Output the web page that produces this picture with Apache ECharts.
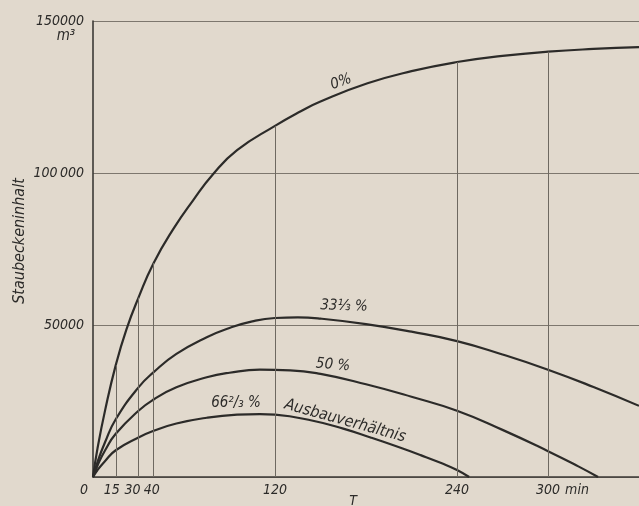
<!DOCTYPE html>
<html>
<head>
<meta charset="utf-8">
<script src="https://cdn.jsdelivr.net/npm/echarts@6/dist/echarts.min.js"></script>
<style>
html,body{margin:0;padding:0;background:#e1d9cd;}
#c{width:639px;height:506px;}
</style>
</head>
<body>
<div id="c"></div>
<script>
// ---- data ----
const T0 = [0, 3, 8, 15, 22, 30, 40, 53, 66, 79, 95, 120, 137, 150, 181, 210, 240, 270, 300, 330, 360];
const V0 = [0, 9500, 22000, 36800, 48500, 59000, 70400, 81600, 91000, 99500, 107500, 115500, 120300, 123500, 129500, 133500, 136500, 138500, 139900, 140800, 141400];

const T1 = [0, 3, 8, 15, 30, 40, 55, 75, 90, 105, 120, 135, 150, 180, 210, 240, 270, 300, 330, 360];
const V1 = [0, 5000, 11500, 19000, 29500, 34500, 40500, 46000, 49000, 51200, 52300, 52500, 52100, 50300, 47800, 44700, 40300, 35300, 29600, 23400];

const T2 = [0, 3, 8, 15, 30, 40, 55, 75, 90, 110, 130, 150, 180, 210, 240, 270, 300, 320, 333];
const V2 = [0, 3800, 8800, 14200, 21800, 25500, 29500, 32800, 34300, 35300, 35100, 33900, 30500, 26400, 21800, 15500, 8500, 3500, 0];

const T3 = [0, 3, 8, 15, 30, 40, 55, 75, 95, 110, 120, 145, 165, 183, 200, 216, 230, 240, 248];
const V3 = [0, 2300, 5300, 8800, 13000, 15200, 17600, 19500, 20500, 20700, 20500, 18500, 15900, 13000, 10100, 7200, 4500, 2300, 0];

const seriesNames = ['0%', '33⅓ %', '50 %', '66²/₃ %'];
const xTickValues = [0, 15, 30, 40, 120, 240, 300];
const yTickValues = [50000, 100000, 150000];
const markerT = [15, 30, 40, 120, 240, 300];

// ---- chart ----
const FONT = '"DejaVu Sans Condensed", "Liberation Sans Narrow", sans-serif';
const INK = '#2c2b29';
const chart = echarts.init(document.getElementById('c'), null, {renderer: 'canvas'});

function pairs(T, V) { return T.map((t, i) => [t, V[i]]); }

const curveStyle = {color: INK, width: 2.2};
const vLines = markerT.map(t => [{coord: [t, 0]}, {coord: [t, V0[T0.indexOf(t)]]}]);

const txt = (text, x, y, rot, size, extra) => Object.assign({
  type: 'text', x: x, y: y, rotation: rot || 0,
  style: {text: text, fill: INK, font: 'italic ' + (size || 14) + 'px ' + FONT, align: 'center', verticalAlign: 'middle'}
}, extra || {});

const labelRich = (pad) => ({padding: pad, fontFamily: FONT, fontStyle: 'italic', fontSize: 14, color: INK});

chart.setOption({
  backgroundColor: '#e1d9cd',
  animation: false,
  grid: {left: 93, right: 0, top: 21, bottom: 29, containLabel: false},
  xAxis: {
    type: 'value', min: 0, max: 360,
    axisLine: {show: true, lineStyle: {color: '#3c3a36', width: 1.6}},
    axisTick: {show: false},
    splitLine: {show: false},
    axisLabel: {
      customValues: xTickValues,
      margin: 6,
      color: INK,
      fontFamily: FONT, fontStyle: 'italic', fontSize: 14,
      formatter: v => v === 0 ? '{z|0}' : (v === 15 ? '{f|15}' : (v === 30 ? '{t|30}' : (v === 40 ? '{q|40}' : String(v)))),
      rich: {
        z: labelRich([0, 18, 0, 0]),
        f: labelRich([0, 8, 0, 0]),
        t: labelRich([0, 12, 0, 0]),
        q: labelRich([0, 4, 0, 0])
      }
    }
  },
  yAxis: {
    type: 'value', min: 0, max: 150000, interval: 50000,
    axisLine: {show: true, lineStyle: {color: '#3c3a36', width: 1.6}},
    axisTick: {show: false},
    splitLine: {show: true, lineStyle: {color: '#7d776e', width: 1.1}},
    axisLabel: {
      showMinLabel: false,
      margin: 9,
      color: INK,
      fontFamily: FONT, fontStyle: 'italic', fontSize: 14,
      formatter: v => v === 100000 ? '100\u2009000' : String(v)
    }
  },
  series: [
    {name: seriesNames[0], type: 'line', data: pairs(T0, V0), smooth: 0.5, showSymbol: false, lineStyle: curveStyle,
     markLine: {silent: true, symbol: ['none', 'none'], label: {show: false}, lineStyle: {color: '#6e6961', width: 1, type: 'solid'}, data: vLines}},
    {name: seriesNames[1], type: 'line', data: pairs(T1, V1), smooth: 0.5, showSymbol: false, lineStyle: curveStyle},
    {name: seriesNames[2], type: 'line', data: pairs(T2, V2), smooth: 0.5, showSymbol: false, lineStyle: curveStyle},
    {name: seriesNames[3], type: 'line', data: pairs(T3, V3), smooth: 0.5, showSymbol: false, lineStyle: curveStyle}
  ],
  graphic: [
    txt('Staubeckeninhalt', 20, 241, Math.PI / 2, 16),
    txt('m³', 66, 36, 0, 15),
    txt('min', 577, 490, 0, 14),
    txt('T', 353, 501, 0, 14),
    txt(seriesNames[0], 341, 82, 0.33, 15),
    txt(seriesNames[1], 344, 306, -0.03, 15),
    txt(seriesNames[2], 333, 365, -0.08, 15),
    txt(seriesNames[3], 236, 403, 0, 15),
    txt('Ausbauverhältnis', 345, 421, -0.27, 16)
  ]
});
</script>
</body>
</html>
